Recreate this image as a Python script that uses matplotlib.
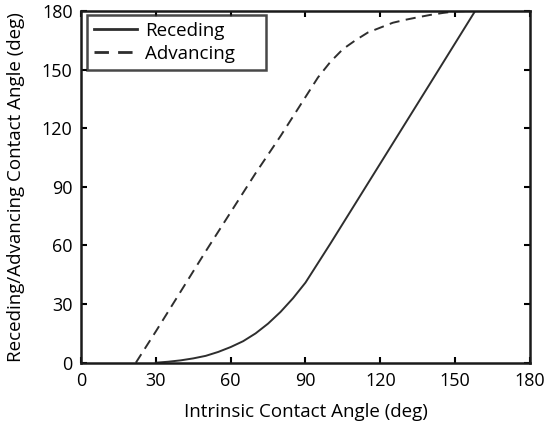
import matplotlib
matplotlib.use("Agg")
import matplotlib.pyplot as plt

plt.rcParams['font.family'] = ['Open Sans', 'DejaVu Sans']

# Receding contact angle
rec_x = [30, 35, 40, 45, 50, 55, 60, 65, 70, 75, 80, 85, 90, 95, 100, 120, 140, 158]
rec_y = [0, 0.5, 1.2, 2.2, 3.5, 5.5, 8, 11, 15, 20, 26, 33, 41, 51, 61, 102, 143, 180]

# Advancing contact angle
adv_x = [22, 30, 40, 50, 60, 70, 80, 85, 90, 95, 100, 105, 110, 115, 120, 125, 130, 135, 140, 145, 150, 155]
adv_y = [0, 16, 36.5, 57, 77, 97, 116, 126, 136, 146, 154, 160.5, 165, 169, 171.5, 174, 175.5, 176.8, 178, 179, 179.8, 180]

xticks = [0, 30, 60, 90, 120, 150, 180]
yticks = [0, 30, 60, 90, 120, 150, 180]

fig = plt.figure(figsize=(5.45, 4.24), dpi=100)
ax = fig.add_axes([0.1486, 0.1446, 0.8239, 0.8294])

col = '#2e2e2e'
ax.plot(rec_x, rec_y, color=col, lw=1.4, label='Receding')
ln, = ax.plot(adv_x, adv_y, color=col, lw=1.4, label='Advancing')
ln.set_dashes((5.2, 3.3))

ax.set_xlim(0, 180)
ax.set_ylim(0, 180)
ax.set_xticks(xticks)
ax.set_yticks(yticks)
ax.tick_params(direction='in', top=True, right=True, length=4, width=1.5,
               labelsize=13, colors='black')
ax.tick_params(axis='x', pad=7)
ax.tick_params(axis='y', pad=6)
for s in ax.spines.values():
    s.set_linewidth(1.8)
    s.set_color('#1a1a1a')

ax.set_xlabel('Intrinsic Contact Angle (deg)', fontsize=13.5, labelpad=9)
ax.set_ylabel('Receding/Advancing Contact Angle (deg)', fontsize=13.5, labelpad=12)

leg = ax.legend(loc='upper left', bbox_to_anchor=(0.0134, 0.0, 0.3986, 0.988),
                mode='expand', borderaxespad=0.0,
                fontsize=13.5, frameon=True, fancybox=False,
                handlelength=2.3, borderpad=0.35, labelspacing=0.28,
                handletextpad=0.45)
leg.get_frame().set_edgecolor('#1a1a1a')
leg.get_frame().set_linewidth(1.8)
for h in leg.get_lines():
    h.set_linewidth(2.0)

fig.savefig('out.png', dpi=100)
